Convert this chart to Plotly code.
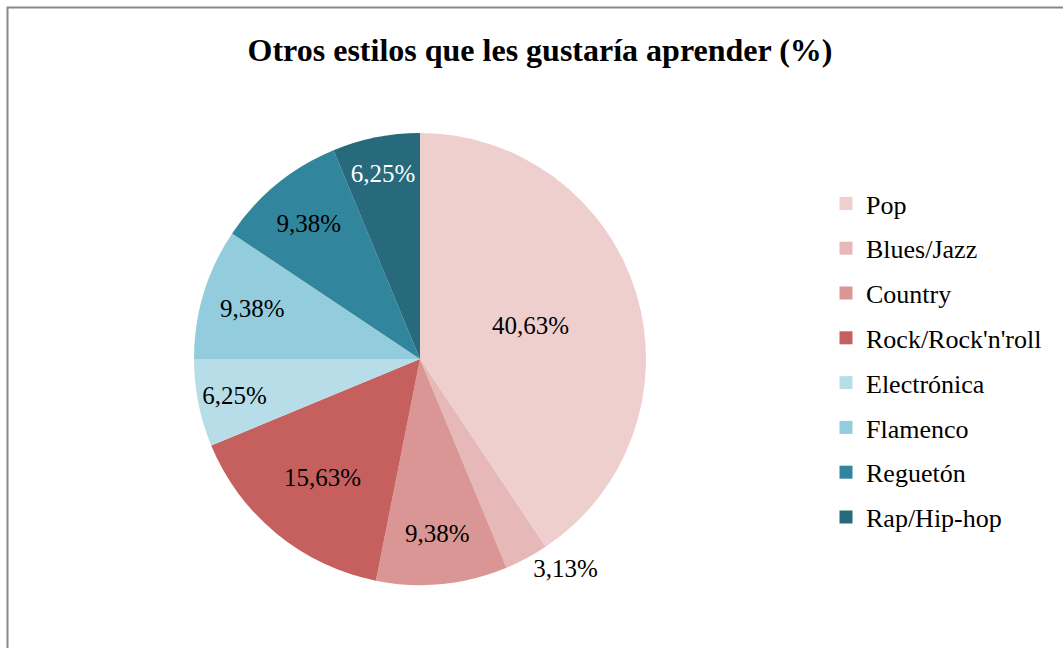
import plotly.graph_objects as go

categories = ["Pop", "Blues/Jazz", "Country", "Rock/Rock'n'roll", "Electrónica",
              "Flamenco", "Reguetón", "Rap/Hip-hop"]
values = [40.63, 3.13, 9.38, 15.63, 6.25, 9.38, 9.38, 6.25]
colors = ["#EECFCE", "#E6B8B7", "#DA9694", "#C5605E", "#B7DEE8",
          "#93CDDD", "#31859C", "#276A7C"]
text_colors = ["black", "black", "black", "black", "black", "black", "black", "white"]
text_positions = ["inside", "outside", "inside", "inside", "inside", "inside", "inside", "inside"]
title_text = "Otros estilos que les gustaría aprender (%)"

W, H = 1063, 648
FONT = "Liberation Serif"

# pie geometry (pixels)
cx, cy, r = 420, 359, 226

fig = go.Figure()
fig.add_trace(go.Pie(
    labels=categories,
    values=values,
    sort=False,
    direction="clockwise",
    rotation=0,
    marker=dict(colors=colors, line=dict(width=0)),
    texttemplate="%{value:.2f}%",
    textinfo="text",
    textposition=text_positions,
    insidetextorientation="horizontal",
    textfont=dict(family=FONT, size=25, color=text_colors),
    insidetextfont=dict(family=FONT, size=25, color=text_colors),
    outsidetextfont=dict(family=FONT, size=25, color="black"),
    showlegend=False,
    hoverinfo="label+percent",
    domain=dict(x=[(cx - r) / W, (cx + r) / W], y=[1 - (cy + r) / H, 1 - (cy - r) / H]),
))

# legend entries (one per category, grouped so we can control spacing)
for name, col in zip(categories, colors):
    fig.add_trace(go.Scatter(
        x=[None], y=[None], mode="markers", name=name,
        legendgroup=name,
        marker=dict(symbol="square", size=13, color=col),
        showlegend=True, hoverinfo="skip",
    ))

fig.update_layout(
    width=W, height=H,
    margin=dict(l=0, r=0, t=0, b=0),
    paper_bgcolor="white",
    plot_bgcolor="white",
    separators=",.",
    font=dict(family=FONT, color="black"),
    uniformtext=dict(minsize=25, mode="show"),
    title=dict(text="<b>" + title_text + "</b>", x=540 / W, xanchor="center",
               y=1 - 50 / H, yanchor="middle",
               font=dict(family=FONT, size=32, color="black")),
    xaxis=dict(visible=False),
    yaxis=dict(visible=False),
    legend=dict(
        x=826 / W, xanchor="left",
        y=1 - 180 / H, yanchor="top",
        font=dict(family=FONT, size=26, color="black"),
        traceorder="grouped",
        tracegroupgap=8,
        bgcolor="rgba(0,0,0,0)",
        itemclick=False, itemdoubleclick=False,
    ),
    shapes=[dict(type="rect", xref="paper", yref="paper",
                 x0=7.5 / W, x1=1.05, y0=-0.05, y1=1 - 7.5 / H,
                 line=dict(color="#888888", width=2), fillcolor="rgba(0,0,0,0)")],
)

fig.write_html("out.html",
               config={"displayModeBar": False},
               post_script="document.body.style.margin='0';document.body.style.overflow='hidden';")
